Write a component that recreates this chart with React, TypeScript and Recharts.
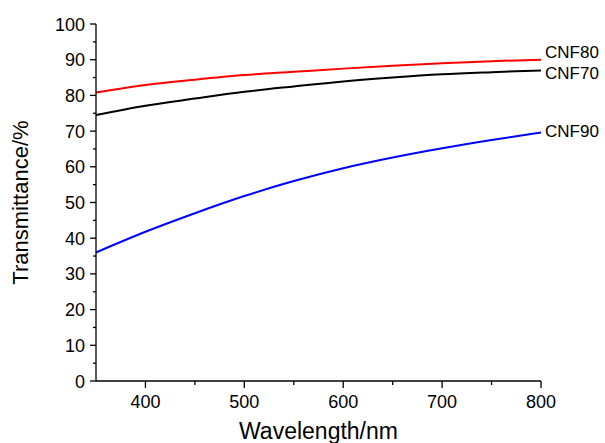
import React from "react";
import { LineChart, Line, XAxis, YAxis, Label } from "recharts";

// Transmittance spectra sampled every 50 nm
const wavelengths = [350, 400, 450, 500, 550, 600, 650, 700, 750, 800];
const cnf80 = [80.8, 82.9, 84.4, 85.7, 86.6, 87.5, 88.3, 89.0, 89.6, 90.0];
const cnf70 = [74.5, 77.1, 79.1, 81.0, 82.5, 83.9, 85.0, 85.9, 86.5, 87.0];
const cnf90 = [36.0, 41.8, 47.0, 51.8, 56.0, 59.6, 62.6, 65.2, 67.5, 69.6];

const xTicks = [350, 400, 450, 500, 550, 600, 650, 700, 750, 800];
const xLabels = [400, 500, 600, 700, 800];
const yTicks = [0, 5, 10, 15, 20, 25, 30, 35, 40, 45, 50, 55, 60, 65, 70, 75, 80, 85, 90, 95, 100];

const data = wavelengths.map((w, i) => ({
  wavelength: w,
  CNF80: cnf80[i],
  CNF70: cnf70[i],
  CNF90: cnf90[i],
}));

const FONT = "'Liberation Sans', Arial, sans-serif";

const series = [
  { key: "CNF80", color: "#ff0000", dy: -1.5 },
  { key: "CNF70", color: "#000000", dy: 8.5 },
  { key: "CNF90", color: "#0000ff", dy: 4 },
];

function XTick({ x, y, payload }: any) {
  const major = xLabels.includes(payload.value);
  if (payload.value === 350) return null;
  return (
    <g>
      <line x1={x} x2={x} y1={y} y2={y + (major ? 7 : 4)} stroke="#000" strokeWidth={1.3} />
      {major && (
        <text x={x} y={y + 27} textAnchor="middle" fontSize={18} fontFamily={FONT} fill="#000">
          {payload.value}
        </text>
      )}
    </g>
  );
}

function YTick({ x, y, payload }: any) {
  const major = payload.value % 10 === 0;
  return (
    <g>
      <line x1={x} x2={x - (major ? 6 : 3)} y1={y} y2={y} stroke="#000" strokeWidth={1.3} />
      {major && (
        <text x={x - 11} y={y + 6.5} textAnchor="end" fontSize={18} fontFamily={FONT} fill="#000">
          {payload.value}
        </text>
      )}
    </g>
  );
}

function endLabel(name: string, dy: number) {
  return (props: any) => {
    if (props.index !== wavelengths.length - 1) return null;
    return (
      <text key={name} x={props.x + 4} y={props.y + dy} fontSize={17} fontFamily={FONT} fill="#000">
        {name}
      </text>
    );
  };
}

export default function App() {
  return (
    <div style={{ position: "fixed", left: 0, top: 0, background: "#fff" }}>
      <LineChart
        width={605}
        height={443}
        data={data}
        margin={{ top: 24, right: 64, bottom: 0, left: 36 }}
      >
        <XAxis
          dataKey="wavelength"
          type="number"
          domain={[350, 800]}
          ticks={xTicks}
          tick={<XTick />}
          tickSize={0}
          tickMargin={0}
          tickLine={false}
          interval={0}
          height={62}
          axisLine={{ stroke: "#000", strokeWidth: 1.3 }}
        >
          <Label
            value="Wavelength/nm"
            position="insideBottom"
            offset={4}
            style={{ fontSize: 23, fontFamily: FONT, fill: "#000" }}
          />
        </XAxis>
        <YAxis
          type="number"
          domain={[0, 100]}
          ticks={yTicks}
          tick={<YTick />}
          tickSize={0}
          tickMargin={0}
          tickLine={false}
          interval={0}
          width={60}
          axisLine={{ stroke: "#000", strokeWidth: 1.3 }}
        >
          <Label
            value="Transmittance/%"
            angle={-90}
            position="insideLeft"
            offset={-16}
            style={{ fontSize: 22, fontFamily: FONT, fill: "#000", textAnchor: "middle" }}
          />
        </YAxis>
        {series.map((s) => (
          <Line
            key={s.key}
            dataKey={s.key}
            type="monotone"
            stroke={s.color}
            strokeWidth={2}
            dot={false}
            activeDot={false}
            isAnimationActive={false}
            label={endLabel(s.key, s.dy)}
          />
        ))}
      </LineChart>
    </div>
  );
}
